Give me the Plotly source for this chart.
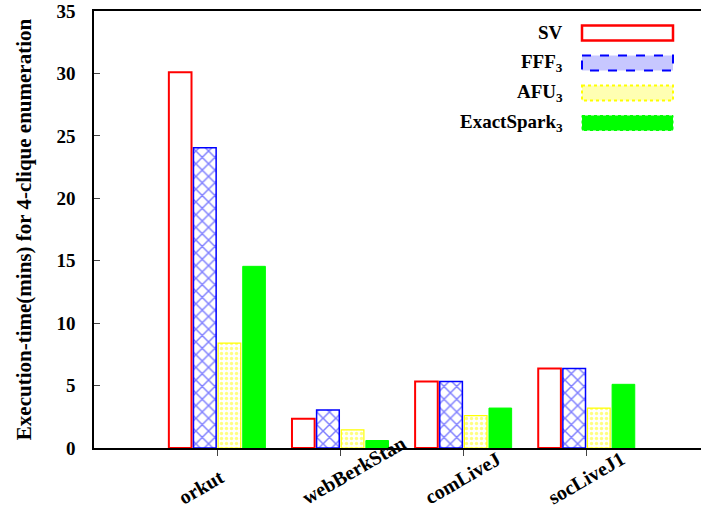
import plotly.graph_objects as go

categories = ["orkut", "webBerkStan", "comLiveJ", "socLiveJ1"]
sv_vals = [30.1, 2.35, 5.32, 6.37]
fff_vals = [24.05, 3.05, 5.32, 6.37]
afu_vals = [8.4, 1.45, 2.6, 3.2]
exact_vals = [14.55, 0.6, 3.2, 5.1]
series_names = ["SV", "FFF<sub>3</sub>", "AFU<sub>3</sub>", "ExactSpark<sub>3</sub>"]
y_ticks = [0, 5, 10, 15, 20, 25, 30, 35]

W, H = 701, 512
L, R, T, B = 94, 0, 11, 64
FONT = "Liberation Serif"
FS = 19

fig = go.Figure()
fig.add_bar(x=categories, y=sv_vals, name=series_names[0],
            marker=dict(color="white", line=dict(color="#ff0000", width=2)))
fig.add_bar(x=categories, y=fff_vals, name=series_names[1],
            marker=dict(color="white",
                        pattern=dict(shape="x", fgcolor="#0000ff", bgcolor="white",
                                     size=9, solidity=0.3),
                        line=dict(color="#0000ff", width=1.5)))
fig.add_bar(x=categories, y=afu_vals, name=series_names[2],
            marker=dict(color="white",
                        pattern=dict(shape=".", fgcolor="#ffff00", bgcolor="white",
                                     size=5, solidity=0.35),
                        line=dict(color="#ffff00", width=1.2)))
fig.add_bar(x=categories, y=exact_vals, name=series_names[3],
            marker=dict(color="#00ff00", line=dict(color="#00ff00", width=1)))

# helpers: pixel -> paper coords
pw, ph = W - L - R, H - T - B
def px_x(px):
    return (px - L) / pw
def px_y(py):
    return (H - B - py) / ph

# manual legend (text right-aligned, swatch on the right)
row_y = [33, 63, 93, 123]
styles = [
    dict(line=dict(color="#ff0000", width=2.5), fillcolor="white"),
    dict(line=dict(color="#0000ff", width=2, dash="dash"), fillcolor="rgba(0,0,255,0.22)"),
    dict(line=dict(color="#ffff00", width=2, dash="dot"), fillcolor="rgba(255,255,0,0.3)"),
    dict(line=dict(color="#00ff00", width=1, dash="dot"), fillcolor="#00ff00"),
]
for name, yc, st in zip(series_names, row_y, styles):
    fig.add_annotation(xref="paper", yref="paper", x=px_x(565), y=px_y(yc),
                       text="<b>" + name + "</b>", showarrow=False,
                       xanchor="right", yanchor="middle",
                       font=dict(family=FONT, size=FS, color="black"))
    fig.add_shape(type="rect", xref="paper", yref="paper",
                  x0=px_x(582), x1=px_x(673), y0=px_y(yc - 7.5), y1=px_y(yc + 7.5),
                  **st)

# rotated category labels (left-anchored, like the reference)
for c in categories:
    fig.add_annotation(xref="x", yref="paper", x=c, y=px_y(511), xshift=-45,
                       text="<b>" + c + "</b>", showarrow=False, textangle=-30,
                       xanchor="left", yanchor="bottom",
                       font=dict(family=FONT, size=FS + 1, color="black"))

fig.update_layout(
    width=W, height=H,
    margin=dict(l=L, r=R, t=T, b=B),
    paper_bgcolor="white", plot_bgcolor="white",
    barmode="group", bargap=0.2, bargroupgap=0.08,
    showlegend=False,
    font=dict(family=FONT, size=FS, color="black"),
)
fig.update_xaxes(
    range=[-1, 3.93], showline=True, linecolor="black", linewidth=1.5, mirror=True,
    ticks="outside", ticklen=6, tickcolor="#444",
    showgrid=False, zeroline=False, showticklabels=False, automargin=False,
)
fig.update_yaxes(
    range=[0, 35], showline=True, linecolor="black", linewidth=1.5,
    ticks="inside", ticklen=6, tickcolor="#444",
    tickvals=y_ticks, ticktext=["<b>%d</b>" % v for v in y_ticks],
    showgrid=False, zeroline=False, ticklabelstandoff=13, automargin=False,
    tickfont=dict(family=FONT, size=FS, color="black"),
    title=dict(text="<b>Execution-time(mins) for 4-clique enumeration</b>",
               font=dict(family=FONT, size=21, color="black"), standoff=19),
)

fig.write_html("out.html", config={"displayModeBar": False},
               post_script="document.body.style.margin='0';")
